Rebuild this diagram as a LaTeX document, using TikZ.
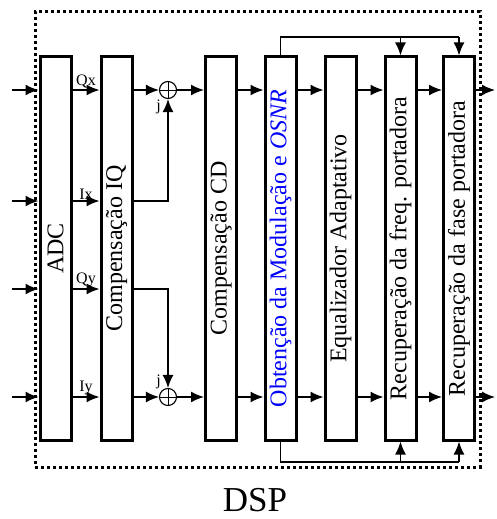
\documentclass[tikz,border=0pt]{standalone}
\usepackage{fontspec}
\setmainfont{Liberation Serif}
\usetikzlibrary{arrows.meta}
\begin{document}
\begin{tikzpicture}[x=1pt,y=-1pt,
  blk/.style={draw,line width=3pt,minimum width=31pt,minimum height=383pt,inner sep=0pt},
  txt/.style={rotate=90,font=\fontsize{24}{24}\selectfont,inner sep=0pt},
  lab/.style={font=\fontsize{16}{16}\selectfont,inner sep=1pt},
  conn/.style={line width=1.6pt},
  arr/.style={conn,-{Latex[length=13pt,width=11pt]}},
  sumc/.style={draw,circle,line width=1.1pt,minimum size=17pt,inner sep=0pt,
    path picture={\draw[line width=0.9pt] (path picture bounding box.north) -- (path picture bounding box.south)
      (path picture bounding box.west) -- (path picture bounding box.east);}},
  frame/.style={draw,line width=3pt,dash pattern=on 3pt off 3pt,minimum width=445pt,minimum height=455pt,inner sep=0pt}
]
\useasboundingbox (0,0) rectangle (496,519);
\node[frame] (dsp) at (257.5,239.5) {};
\node[font=\fontsize{35}{35}\selectfont,inner sep=0pt] (dsptxt) at (255,500.5) {DSP};

% blocks
\node[blk] (adc) at (55.5,248.5) {};
\node[blk] (iq) at (116.5,248.5) {};
\node[blk] (cd) at (221,248.5) {};
\node[blk] (ob) at (280.5,248.5) {};
\node[blk] (eq) at (340.5,248.5) {};
\node[blk] (fr) at (400.5,248.5) {};
\node[blk] (fa) at (459,248.5) {};

\node[txt] (adct) at (adc.center) {ADC};
\node[txt] (iqt) at (iq.center) {Compensação IQ};
\node[txt] (cdt) at (cd.center) {Compensação CD};
\node[txt,text=blue] (obt) at (ob.center) {Obtenção da Modulação e \textit{OSNR}};
\node[txt] (eqt) at (eq.center) {Equalizador Adaptativo};
\node[txt] (frt) at (fr.center) {Recuperação da freq. portadora};
\node[txt] (fat) at (fa.center) {Recuperação da fase portadora};

% rows
\coordinate (r1) at (12,90);
\coordinate (r2) at (12,201);
\coordinate (r3) at (12,289);
\coordinate (r4) at (12,397);
\coordinate (o1) at (495,90);
\coordinate (o4) at (495,397);

\node[sumc] (s1) at (168,90) {};
\node[sumc] (s2) at (168,397) {};

% inputs
\foreach \r in {r1,r2,r3,r4} \draw[arr] (\r) -- (\r -| adc.west);

% ADC -> IQ
\draw[arr] (adc.east |- r1) -- node[lab,above] (lqx) {Qx} (iq.west |- r1);
\draw[arr] (adc.east |- r2) -- node[lab,above] (lix) {Ix} (iq.west |- r2);
\draw[arr] (adc.east |- r3) -- node[lab,above] (lqy) {Qy} (iq.west |- r3);
\draw[arr] (adc.east |- r4) -- node[lab,above] (liy) {Iy} (iq.west |- r4);

% IQ -> sums
\draw[arr] (iq.east |- r1) -- (s1.west);
\draw[arr] (iq.east |- r2) -| (s1.south);
\draw[arr] (iq.east |- r3) -| (s2.north);
\draw[arr] (iq.east |- r4) -- (s2.west);
\node[lab] (j1) at (158.5,107) {j};
\node[lab] (j2) at (158.5,382) {j};

% sums -> CD
\draw[arr] (s1.east) -- (cd.west |- s1);
\draw[arr] (s2.east) -- (cd.west |- s2);

% chain
\draw[arr] (cd.east |- r1) -- (ob.west |- r1);
\draw[arr] (cd.east |- r4) -- (ob.west |- r4);
\draw[arr] (ob.east |- r1) -- (eq.west |- r1);
\draw[arr] (ob.east |- r4) -- (eq.west |- r4);
\draw[arr] (eq.east |- r1) -- (fr.west |- r1);
\draw[arr] (eq.east |- r4) -- (fr.west |- r4);
\draw[arr] (fr.east |- r1) -- (fa.west |- r1);
\draw[arr] (fr.east |- r4) -- (fa.west |- r4);
\draw[arr] (fa.east |- r1) -- (o1);
\draw[arr] (fa.east |- r4) -- (o4);

% feedback
\coordinate (ft) at (0,37);
\coordinate (fb) at (0,462);
\draw[conn] (ob.north) -- (ob.north |- ft) -- (fa.north |- ft);
\draw[arr] (fa.north |- ft) -- (fa.north);
\draw[arr] (fr.north |- ft) -- (fr.north);
\draw[conn] (ob.south) -- (ob.south |- fb) -- (fa.south |- fb);
\draw[arr] (fa.south |- fb) -- (fa.south);
\draw[arr] (fr.south |- fb) -- (fr.south);
\end{tikzpicture}
\end{document}
